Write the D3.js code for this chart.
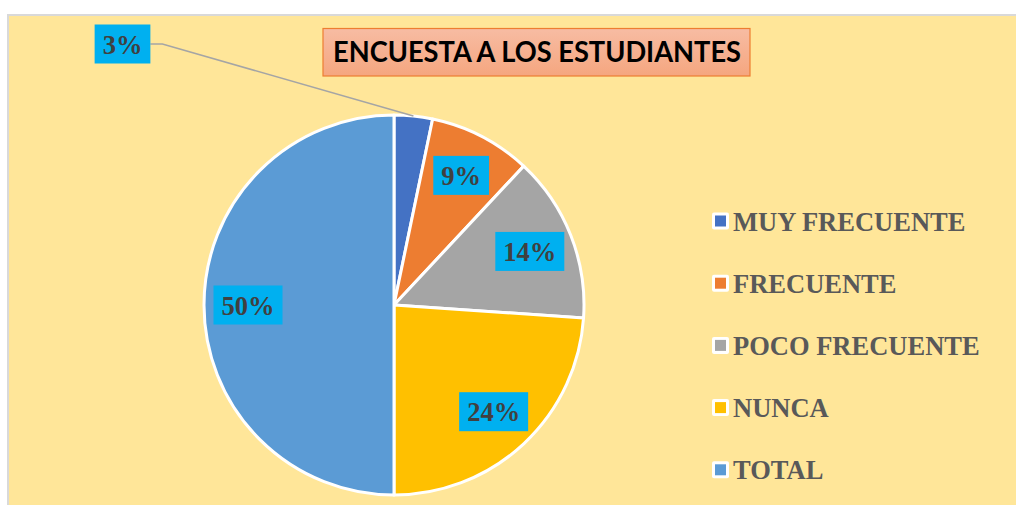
<!DOCTYPE html>
<html>
<head>
<meta charset="utf-8">
<script src="https://cdn.jsdelivr.net/npm/d3@7/dist/d3.min.js"></script>
<style>
html,body{margin:0;padding:0;background:#fff;}
svg{display:block;}
</style>
</head>
<body>
<svg id="chart" width="1016" height="505"></svg>
<script>
const categories = ["MUY FRECUENTE", "FRECUENTE", "POCO FRECUENTE", "NUNCA", "TOTAL"];
const values = [3, 8, 13, 22, 46];
const colors = ["#4472C4", "#ED7D31", "#A5A5A5", "#FFC000", "#5B9BD5"];
const title = "ENCUESTA A LOS ESTUDIANTES";

const svg = d3.select("#chart");

// frame
svg.append("rect").attr("x", 8).attr("y", 15).attr("width", 1020).attr("height", 500)
  .attr("fill", "#FFE699").attr("stroke", "#D9D9D9").attr("stroke-width", 2);

// title
const defs = svg.append("defs");
const grad = defs.append("linearGradient").attr("id", "tg").attr("x1", 0).attr("y1", 0).attr("x2", 0).attr("y2", 1);
grad.append("stop").attr("offset", "0%").attr("stop-color", "#F7BCA3");
grad.append("stop").attr("offset", "100%").attr("stop-color", "#F5A67F");
svg.append("rect").attr("x", 323).attr("y", 28.5).attr("width", 427).attr("height", 47.5)
  .attr("fill", "url(#tg)").attr("stroke", "#ED7D31").attr("stroke-width", 1.2);
svg.append("text").attr("x", 333).attr("y", 62)
  .attr("font-family", "Lato, 'Open Sans', sans-serif").attr("font-weight", "bold")
  .attr("font-size", 28).attr("fill", "#000")
  .attr("textLength", 408).attr("lengthAdjust", "spacingAndGlyphs")
  .text(title);

// pie
const cx = 394, cy = 305, r = 190;
const total = d3.sum(values);
const pie = d3.pie().sort(null).value(d => d)(values);
const arc = d3.arc().innerRadius(0).outerRadius(r);
const g = svg.append("g").attr("transform", `translate(${cx},${cy})`);
g.selectAll("path").data(pie).enter().append("path")
  .attr("d", arc)
  .attr("fill", (d, i) => colors[i])
  .attr("stroke", "#fff").attr("stroke-width", 3).attr("stroke-linejoin", "round");

// labels
const labelArc = d3.arc().innerRadius(146).outerRadius(146);
const edgeArc = d3.arc().innerRadius(r).outerRadius(r);
const fmt = v => Math.round(v / total * 100) + "%";
const fontL = "'Liberation Serif', 'Times New Roman', serif";

function drawLabel(x, y, txt) {
  const lg = svg.append("g");
  const rect = lg.append("rect").attr("fill", "#00B0F0");
  const t = lg.append("text").attr("x", x).attr("y", y + 9.5)
    .attr("text-anchor", "middle")
    .attr("font-family", fontL).attr("font-weight", "bold")
    .attr("font-size", 26.5).attr("fill", "#404040").text(txt);
  const w = t.node().getComputedTextLength() + 16;
  rect.attr("x", x - w / 2).attr("y", y - 19.5).attr("width", w).attr("height", 39);
  return w;
}

pie.forEach((d, i) => {
  if (i === 0) {
    // outside label with leader line
    const bx = 122.5, by = 44;
    const p = edgeArc.centroid(d);
    const w = drawLabel(bx, by, fmt(d.data));
    svg.insert("polyline", "g:last-of-type")
      .attr("points", `${bx + w / 2},${by} ${bx + w / 2 + 12},${by} ${cx + p[0]},${cy + p[1]}`)
      .attr("fill", "none").attr("stroke", "#A5A5A5").attr("stroke-width", 1.5);
  } else {
    const c = labelArc.centroid(d);
    drawLabel(cx + c[0], cy + c[1], fmt(d.data));
  }
});

// legend
const lx = 712, ly0 = 221, step = 62.2;
const leg = svg.append("g");
categories.forEach((c, i) => {
  const y = ly0 + i * step;
  leg.append("rect").attr("x", lx).attr("y", y - 8.5).attr("width", 17).attr("height", 17)
    .attr("fill", "#fff").attr("rx", 2);
  leg.append("rect").attr("x", lx + 3).attr("y", y - 5.5).attr("width", 11).attr("height", 11)
    .attr("fill", colors[i]);
  leg.append("text").attr("x", lx + 21).attr("y", y + 9.5)
    .attr("font-family", fontL).attr("font-weight", "bold")
    .attr("font-size", 26.5).attr("fill", "#595959").text(c);
});
</script>
</body>
</html>
